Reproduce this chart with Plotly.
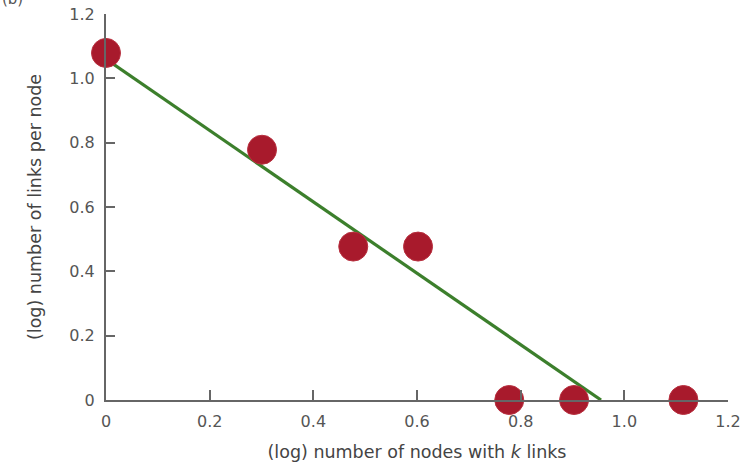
import plotly.graph_objects as go

# data (log10 values)
x_nodes = [0.0, 0.301, 0.477, 0.602, 0.778, 0.903, 1.114]
y_links = [1.079, 0.778, 0.477, 0.477, 0.0, 0.0, 0.0]
fit_x = [0.0, 0.955]
fit_y = [1.06, 0.0]
tick_vals = [0, 0.2, 0.4, 0.6, 0.8, 1.0, 1.2]
tick_text = ["0", "0.2", "0.4", "0.6", "0.8", "1.0", "1.2"]

fig = go.Figure()
fig.add_trace(go.Scatter(x=fit_x, y=fit_y, mode="lines",
                         line=dict(color="#3c7f2c", width=3.2),
                         cliponaxis=False, showlegend=False))
fig.add_trace(go.Scatter(x=x_nodes, y=y_links, mode="markers",
                         marker=dict(size=29, color="#a81a2c",
                                     line=dict(width=1, color="#b8303f")),
                         cliponaxis=False, showlegend=False))

gray = "#555555"
fam = "DejaVu Sans, Liberation Sans, sans-serif"
fig.update_layout(
    width=751, height=466,
    margin=dict(l=106, r=23, t=14, b=66),
    paper_bgcolor="white", plot_bgcolor="white",
    font=dict(family=fam, color=gray),
    xaxis=dict(range=[0, 1.2], tickvals=tick_vals, ticktext=tick_text,
               automargin=False,
               showgrid=False, zeroline=False, showline=True,
               linecolor="#666", linewidth=2, ticks="inside", ticklen=10,
               tickwidth=2, tickcolor="#666", tickfont=dict(size=16, color=gray),
               ticklabelstandoff=6,
               title=dict(text="(log) number of nodes with <i>k</i> links",
                          font=dict(size=17.5, color="#444"), standoff=16)),
    yaxis=dict(range=[0, 1.2], tickvals=tick_vals, ticktext=tick_text,
               automargin=False,
               showgrid=False, zeroline=False, showline=True,
               linecolor="#666", linewidth=2, ticks="inside", ticklen=9,
               tickwidth=2, tickcolor="#666", tickfont=dict(size=16, color=gray),
               ticklabelstandoff=6,
               title=dict(text="(log) number of links per node",
                          font=dict(size=17.5, color="#444"), standoff=23)),
)
fig.add_annotation(text="(b)", xref="paper", yref="paper", x=-0.17, y=1.0,
                   yshift=4, showarrow=False, font=dict(size=15, color=gray),
                   xanchor="left", yanchor="bottom")
fig.write_html("out.html", config={"displayModeBar": False},
               post_script="document.body.style.margin='0';document.body.style.overflow='hidden';")
